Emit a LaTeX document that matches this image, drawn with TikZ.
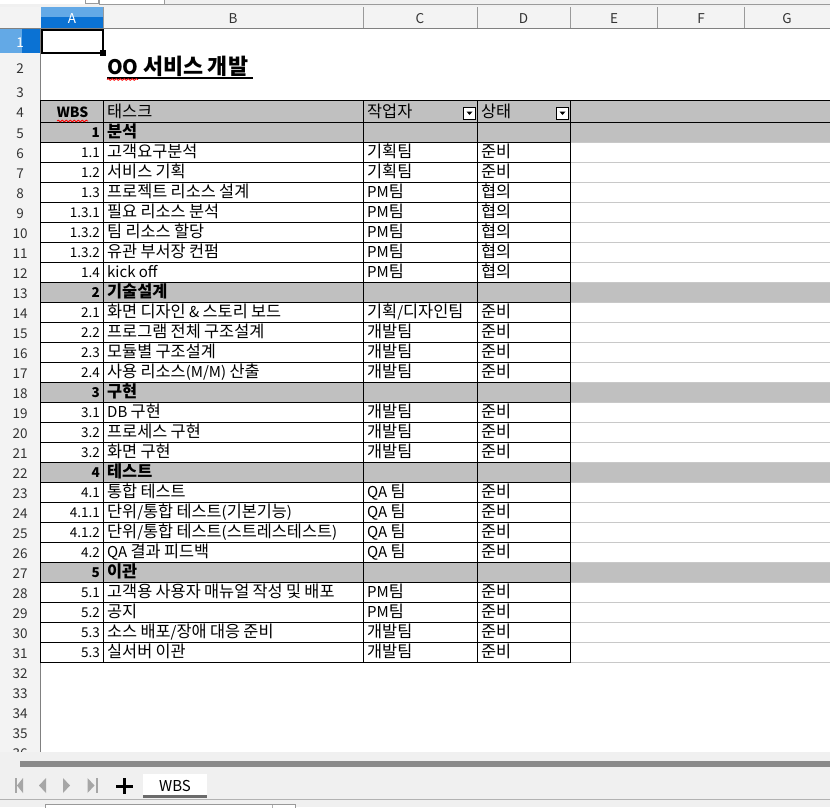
\documentclass[tikz,border=0pt]{standalone}
\usepackage{fontspec}
\setmainfont{Noto Sans CJK KR}
\newfontfamily\hangulfont[Scale=1.09]{Noto Sans CJK KR}
\XeTeXinterchartokenstate=1
\newXeTeXintercharclass\HangulClass
\count255="AC00
\loop \XeTeXcharclass\count255=\HangulClass \ifnum\count255<"D7A3 \advance\count255 by 1 \repeat
\XeTeXinterchartoks 0 \HangulClass = {\begingroup\hangulfont}
\XeTeXinterchartoks 4095 \HangulClass = {\begingroup\hangulfont}
\XeTeXinterchartoks \HangulClass 0 = {\endgroup}
\XeTeXinterchartoks \HangulClass 4095 = {\endgroup}
\usetikzlibrary{decorations.pathmorphing}
\definecolor{uibg}{HTML}{F0F0F0}
\definecolor{hdrbg}{HTML}{F3F3F3}
\definecolor{selA}{HTML}{63A9E6}
\definecolor{selB}{HTML}{0B72D3}
\definecolor{secgray}{HTML}{C0C0C0}
\definecolor{gridl}{HTML}{C8C8C8}
\definecolor{hdrline}{HTML}{9A9A9A}
\definecolor{hdrtext}{HTML}{333333}
\definecolor{navgray}{HTML}{A6A6A6}
\definecolor{scrollg}{HTML}{8A8A8A}
\definecolor{tabline}{HTML}{6B6B6B}
\newcommand\cellfont{\fontsize{15}{17}\selectfont}
\newcommand\numfont{\fontsize{13.5}{16}\selectfont}
\newcommand\hdrfont{\fontsize{13.5}{16}\selectfont}
\newcommand\wrow[5]{%
  \pgfmathsetmacro\yb{122+(#1-5)*20+15.5}%
  \node[numc] (a#1) at (100,\yb) {#2};
  \node[txt] (b#1) at (107,\yb) {#3};
  \node[txt] (c#1) at (367,\yb) {#4};
  \node[txt] (d#1) at (481,\yb) {#5};
}
\newcommand\srow[3]{%
  \pgfmathsetmacro\yb{122+(#1-5)*20+15.5}%
  \node[numc,font=\numfont\bfseries] (a#1) at (100,\yb) {#2};
  \node[txt,font=\cellfont\bfseries] (b#1) at (107,\yb) {#3};
}
\begin{document}
\begin{tikzpicture}[x=1pt,y=-1pt,
  txt/.style={font=\cellfont,inner sep=0pt,anchor=base west},
  numc/.style={font=\numfont,inner sep=0pt,anchor=base east},
  colhdr/.style={font=\hdrfont,text=hdrtext,inner sep=0pt,anchor=base},
  rowhdr/.style={font=\hdrfont,text=hdrtext,inner sep=0pt,anchor=base},
  wavy/.style={draw=red,line width=0.8pt,decorate,decoration={snake,amplitude=0.9pt,segment length=4pt}},
  ddbtn/.style={draw=black,fill=white,line width=0.8pt}]
\useasboundingbox (0,0) rectangle (830,807);
\fill[white] (0,0) rectangle (830,807);
% top strip
\fill[uibg] (0,0) rectangle (830,7);
\fill[white] (0,0) rectangle (85,4);
\draw[hdrline,fill=white] (85.5,-1) rectangle (98.5,3.5);
\draw[hdrline,fill=white] (99.5,-1) rectangle (164.5,4.5);
\draw[hdrline,line width=1.2pt] (164,4.5) -- (830,4.5);
% column header
\fill[hdrbg] (0,7) rectangle (830,28);
\fill[selA] (41,7) rectangle (103,17);
\fill[selB] (41,17) rectangle (103,28);
\foreach \x in {103.5,363.5,477.5,570.5,657.5,744.5}
  \draw[hdrline] (\x,7) -- (\x,28);
\draw[gray] (0,28.5) -- (830,28.5);
\node[colhdr,text=white] (hA) at (72,23) {A};
\node[colhdr] (hB) at (233,23) {B};
\node[colhdr] (hC) at (420,23) {C};
\node[colhdr] (hD) at (523.5,23) {D};
\node[colhdr] (hE) at (614,23) {E};
\node[colhdr] (hF) at (701,23) {F};
\node[colhdr] (hG) at (787,23) {G};
% row header column
\begin{scope}
\clip (0,29) rectangle (830,752);
\fill[hdrbg] (0,29) rectangle (40,752);
\fill[selA] (0,29) rectangle (22,53);
\fill[selB] (22,29) rectangle (40,53);
\draw[gray] (40.5,29) -- (40.5,752);
\node[rowhdr,text=white] (r1) at (20,47) {1};
\node[rowhdr] (r2) at (20,73.5) {2};
\node[rowhdr] (r3) at (20,97) {3};
\node[rowhdr] (r4) at (20,117) {4};
\foreach \n in {5,...,36}{
  \pgfmathsetmacro\yb{132+(\n-5)*20+6}
  \node[rowhdr] (r\n) at (20,\yb) {\n};
}
\end{scope}
% header row and section fills
\fill[secgray] (41,100) rectangle (830,122);
\foreach \r in {5,13,18,22,27}{
  \pgfmathsetmacro\yt{122+(\r-5)*20}
  \fill[secgray] (41,\yt) rectangle (830,\yt+20);
}
% light grid beyond D
\foreach \k in {1,...,27}
  \draw[gridl] (571,122.5+\k*20) -- (830,122.5+\k*20);
% table borders
\draw[black] (40,100.5) -- (830,100.5);
\draw[black] (40,122.5) -- (830,122.5);
\foreach \k in {1,...,27}
  \draw[black] (40,122.5+\k*20) -- (571,122.5+\k*20);
\foreach \x in {40.5,103.5,363.5,477.5,570.5}
  \draw[black] (\x,100) -- (\x,663);
% dropdown buttons
\draw[ddbtn] (463.5,107.5) rectangle (475.5,119.5);
\fill[black] (466.5,111.5) -- (472.5,111.5) -- (469.5,115) -- cycle;
\draw[ddbtn] (556.5,107.5) rectangle (568.5,119.5);
\fill[black] (559.5,111.5) -- (565.5,111.5) -- (562.5,115) -- cycle;
% header row texts
\node[numc,anchor=base,font=\fontsize{14}{16}\selectfont\bfseries] (tWBS) at (72.5,117) {WBS};
\node[txt] (tTask) at (107,117) {태스크};
\node[txt] (tOwner) at (367,117) {작업자};
\node[txt] (tState) at (481,117) {상태};
\draw[wavy] (57,121) -- (88,121);
% title
\node[inner sep=0pt,anchor=base west,font=\fontsize{20}{22}\selectfont\bfseries] (title) at (107,74) {OO 서비스 개발};
\draw[black,line width=1.6pt] (107,77.8) -- (253,77.8);
\draw[wavy] (107,79.5) -- (138,79.5);
% selected cell A1
\draw[black,line width=2pt] (41.5,29.5) rectangle (102.5,52.5);
\fill[black] (100,50) rectangle (106,56);
% rows
\srow{5}{1}{분석}
\wrow{6}{1.1}{고객요구분석}{기획팀}{준비}
\wrow{7}{1.2}{서비스 기획}{기획팀}{준비}
\wrow{8}{1.3}{프로젝트 리소스 설계}{PM팀}{협의}
\wrow{9}{1.3.1}{필요 리소스 분석}{PM팀}{협의}
\wrow{10}{1.3.2}{팀 리소스 할당}{PM팀}{협의}
\wrow{11}{1.3.2}{유관 부서장 컨펌}{PM팀}{협의}
\wrow{12}{1.4}{kick off}{PM팀}{협의}
\srow{13}{2}{기술설계}
\wrow{14}{2.1}{화면 디자인 \& 스토리 보드}{기획/디자인팀}{준비}
\wrow{15}{2.2}{프로그램 전체 구조설계}{개발팀}{준비}
\wrow{16}{2.3}{모듈별 구조설계}{개발팀}{준비}
\wrow{17}{2.4}{사용 리소스(M/M) 산출}{개발팀}{준비}
\srow{18}{3}{구현}
\wrow{19}{3.1}{DB 구현}{개발팀}{준비}
\wrow{20}{3.2}{프로세스 구현}{개발팀}{준비}
\wrow{21}{3.2}{화면 구현}{개발팀}{준비}
\srow{22}{4}{테스트}
\wrow{23}{4.1}{통합 테스트}{QA 팀}{준비}
\wrow{24}{4.1.1}{단위/통합 테스트(기본기능)}{QA 팀}{준비}
\wrow{25}{4.1.2}{단위/통합 테스트(스트레스테스트)}{QA 팀}{준비}
\wrow{26}{4.2}{QA 결과 피드백}{QA 팀}{준비}
\srow{27}{5}{이관}
\wrow{28}{5.1}{고객용 사용자 매뉴얼 작성 및 배포}{PM팀}{준비}
\wrow{29}{5.2}{공지}{PM팀}{준비}
\wrow{30}{5.3}{소스 배포/장애 대응 준비}{개발팀}{준비}
\wrow{31}{5.3}{실서버 이관}{개발팀}{준비}
% bottom bar
\fill[uibg] (0,752) rectangle (830,807);
\fill[scrollg] (20,761) rectangle (830,767);
\fill[navgray] (14.5,778) rectangle (16.5,793);
\fill[navgray] (23,778) -- (23,793) -- (17,785.5) -- cycle;
\fill[navgray] (46,778) -- (46,793) -- (39,785.5) -- cycle;
\fill[navgray] (63,778) -- (63,793) -- (70,785.5) -- cycle;
\fill[navgray] (87.5,778) -- (87.5,793) -- (94.5,785.5) -- cycle;
\fill[navgray] (96,778) rectangle (98,793);
\draw[black,line width=3pt] (116,786) -- (133,786);
\draw[black,line width=3pt] (124.5,778) -- (124.5,794);
\fill[white] (143,774) rectangle (207,795);
\fill[tabline] (143,795) rectangle (207,798);
\node[inner sep=0pt,anchor=base,font=\fontsize{15}{16}\selectfont] (tab) at (175,791) {WBS};
\draw[gray!60] (0,799.5) -- (830,799.5);
\draw[gray!80,fill=white] (45.5,804.5) rectangle (295.5,812);
\draw[gray!60] (272.5,804.5) -- (272.5,812);
\end{tikzpicture}
\end{document}
